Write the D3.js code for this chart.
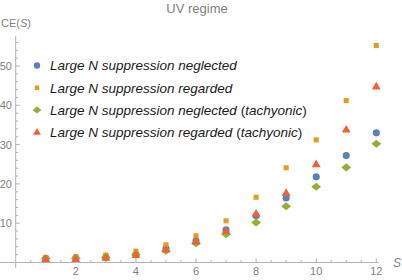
<!DOCTYPE html>
<html><head><meta charset="utf-8">
<script src="https://cdn.jsdelivr.net/npm/d3@7"></script>
<style>body{margin:0;background:#fff}svg{display:block}</style>
</head><body>
<svg id="c" width="402" height="280"></svg>
<script>
const S = [1,2,3,4,5,6,7,8,9,10,11,12];
const neglected = [1.0,1.1,1.4,2.1,3.6,5.5,8.3,11.9,16.4,21.8,27.2,33.0];
const regarded = [1.3,1.5,1.9,2.9,4.5,6.8,10.6,16.6,24.1,31.2,41.2,55.2];
const neglectedTach = [1.0,1.1,1.3,2.0,3.0,4.9,7.2,10.2,14.3,19.3,24.2,30.2];
const regardedTach = [0.8,0.8,1.1,1.8,3.2,5.2,7.9,12.3,17.6,24.9,33.7,44.7];
const seriesNames = ["Large N suppression neglected","Large N suppression regarded","Large N suppression neglected (tachyonic)","Large N suppression regarded (tachyonic)"];
const colors = ["#5E81B5","#E19C24","#8FB032","#EB6235"];
const xTicks = [2,4,6,8,10,12];
const yTicks = [10,20,30,40,50];

const svg = d3.select("#c");
const x = d3.scaleLinear().domain([0,12]).range([15.7,376.3]);
const y = d3.scaleLinear().domain([0,50]).range([262.5,66]);
const axisCol = "#b3b3b3", labCol = "#7f7f7f";
const FF = "Liberation Sans, Arial, sans-serif";

svg.append("line").attr("x1",0).attr("x2",x(12.08)).attr("y1",y(0)).attr("y2",y(0)).attr("stroke",axisCol).attr("stroke-width",1);
svg.append("line").attr("x1",x(0)).attr("x2",x(0)).attr("y1",y(-1.4)).attr("y2",y(57.6)).attr("stroke",axisCol).attr("stroke-width",1);

d3.range(0.5,12.01,0.5).forEach(v=>{
  const major = xTicks.includes(v);
  svg.append("line").attr("x1",x(v)).attr("x2",x(v)).attr("y1",y(0)).attr("y2",y(0)-(major?4:2.5)).attr("stroke",axisCol);
});
svg.selectAll(".xl").data(xTicks).join("text").attr("x",d=>x(d)).attr("y",274.5)
  .attr("text-anchor","middle").attr("font-family",FF).attr("font-size",11).attr("fill",labCol).text(d=>d);
d3.range(2,56.01,2).forEach(v=>{
  const major = yTicks.includes(v);
  svg.append("line").attr("x1",x(0)).attr("x2",x(0)+(major?4:2.5)).attr("y1",y(v)).attr("y2",y(v)).attr("stroke",axisCol);
});
svg.selectAll(".yl").data(yTicks).join("text").attr("x",12).attr("y",d=>y(d)+4)
  .attr("text-anchor","end").attr("font-family",FF).attr("font-size",11).attr("fill",labCol).text(d=>d);

svg.append("text").attr("x",197).attr("y",13).attr("text-anchor","middle").attr("font-family",FF).attr("font-size",13).attr("fill",labCol).text("UV regime");
const ce = svg.append("text").attr("x",1).attr("y",27).attr("font-family",FF).attr("font-size",11).attr("fill",labCol);
ce.append("tspan").text("CE(");
ce.append("tspan").attr("font-style","italic").text("S");
ce.append("tspan").text(")");
svg.append("text").attr("x",397).attr("y",267).attr("text-anchor","middle").attr("font-family",FF).attr("font-size",12).attr("font-style","italic").attr("fill",labCol).text("S");

// wide diamond
const wideDiamond = { draw(ctx, size){ const r = Math.sqrt(size/2); ctx.moveTo(0,-r*0.9); ctx.lineTo(r*1.1,0); ctx.lineTo(0,r*0.9); ctx.lineTo(-r*1.1,0); ctx.closePath(); } };
const symbols = [d3.symbolCircle, d3.symbolSquare, wideDiamond, d3.symbolTriangle];
const sizes = [40, 26, 40, 34];
const allSeries = [neglected, regarded, neglectedTach, regardedTach];
allSeries.forEach((vals,i)=>{
  svg.append("g").selectAll("path").data(S).join("path")
    .attr("transform",(d,j)=>`translate(${x(d)},${y(vals[j])})`)
    .attr("d",d3.symbol().type(symbols[i]).size(sizes[i]))
    .attr("fill",colors[i]);
});

const legY = [65.5, 87.8, 110, 132.5];
seriesNames.forEach((n,i)=>{
  svg.append("path").attr("transform",`translate(37,${legY[i]})`).attr("d",d3.symbol().type(symbols[i]).size(sizes[i]*0.8)).attr("fill",colors[i]);
  const t = svg.append("text").attr("x",50).attr("y",legY[i]+4.7).attr("font-family",FF).attr("font-size",13.5).attr("fill","#1a1a1a");
  n.split(/([()])/).filter(s=>s.length).forEach(part=>{
    const ts = t.append("tspan").text(part);
    if (part!=="(" && part!==")") ts.attr("font-style","italic");
  });
});
</script>
</body></html>
